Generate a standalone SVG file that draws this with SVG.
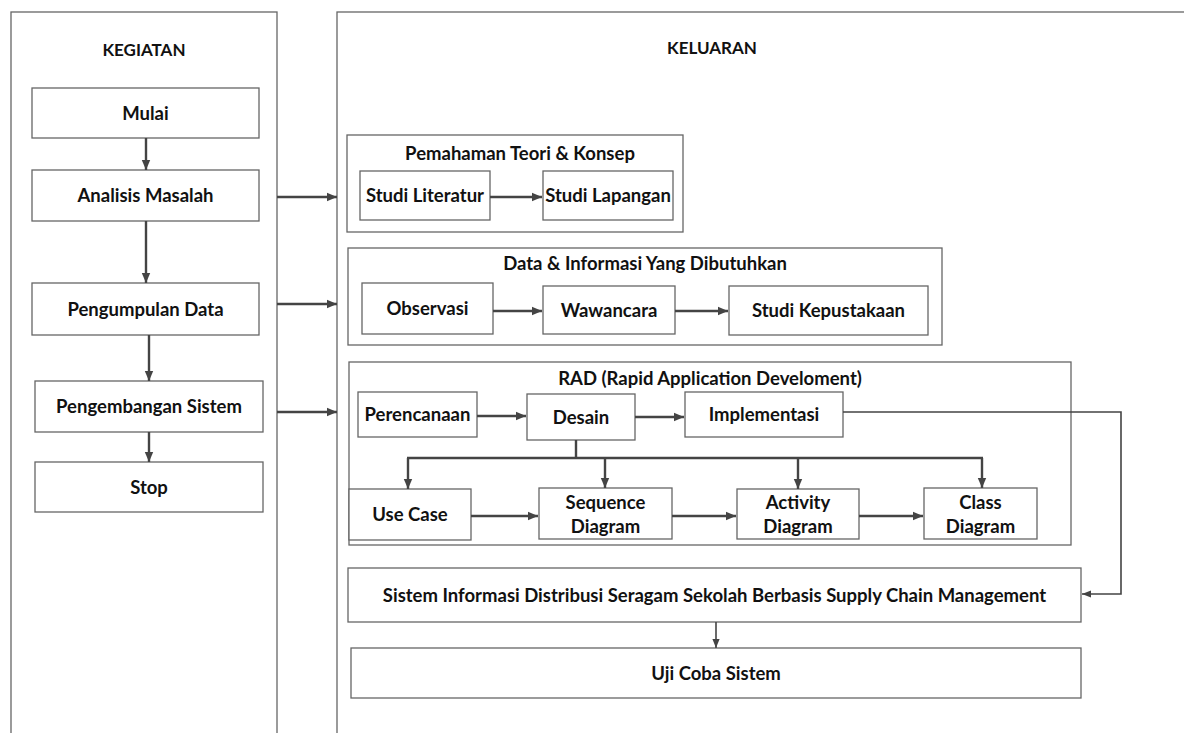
<svg xmlns="http://www.w3.org/2000/svg" width="1184" height="733" viewBox="0 0 1184 733">
<defs>
<style>
.panel{fill:none;stroke:#666;stroke-width:1.3}
.box{fill:#fff;stroke:#666;stroke-width:1.3}
.grp{fill:#fff;stroke:#666;stroke-width:1.3}
.t{font-family:Lato,"Liberation Sans",sans-serif;font-weight:bold;font-size:18.5px;fill:#111;text-anchor:middle}
.h{font-size:17px}
.ar{fill:none;stroke:#444;stroke-width:2.4;marker-end:url(#ah)}
.ln{fill:none;stroke:#444;stroke-width:2.4}
.ar2{fill:none;stroke:#444;stroke-width:1.6;marker-end:url(#ah2)}
</style>
<marker id="ah" viewBox="0 0 10 10" refX="10" refY="5" markerWidth="10" markerHeight="10" markerUnits="userSpaceOnUse" orient="auto">
<path d="M0,0.8 L10,5 L0,9.2 z" fill="#444"/>
</marker>
<marker id="ah2" viewBox="0 0 10 10" refX="10" refY="5" markerWidth="9" markerHeight="9" markerUnits="userSpaceOnUse" orient="auto">
<path d="M0,1 L10,5 L0,9 z" fill="#444"/>
</marker>
</defs>
<rect width="1184" height="733" fill="#fff"/>
<g id="panel-kegiatan">
<rect class="panel" x="11" y="12" width="266" height="740"/>
<text class="t h" x="144" y="56">KEGIATAN</text>
</g>
<g id="panel-keluaran">
<rect class="panel" x="337" y="12" width="900" height="740"/>
<text class="t h" x="712" y="54">KELUARAN</text>
</g>
<g id="mulai"><rect class="box" x="32" y="88" width="227" height="50"/><text class="t" x="145.5" y="119.5">Mulai</text></g>
<g id="analisis"><rect class="box" x="32" y="170" width="227" height="51"/><text class="t" x="145.5" y="202">Analisis Masalah</text></g>
<g id="pengumpulan"><rect class="box" x="32" y="283" width="227" height="52"/><text class="t" x="145.5" y="315.5">Pengumpulan Data</text></g>
<g id="pengembangan"><rect class="box" x="35" y="381" width="228" height="51"/><text class="t" x="149" y="413">Pengembangan Sistem</text></g>
<g id="stop"><rect class="box" x="35" y="462" width="228" height="50"/><text class="t" x="149" y="493.5">Stop</text></g>

<g id="grp-pemahaman"><rect class="grp" x="347" y="135" width="336" height="97"/><text class="t" x="520" y="159.5">Pemahaman Teori &amp; Konsep</text></g>
<g id="studi-literatur"><rect class="box" x="360" y="171" width="130" height="49"/><text class="t" x="425" y="202">Studi Literatur</text></g>
<g id="studi-lapangan"><rect class="box" x="543" y="171" width="130" height="49"/><text class="t" x="608" y="202">Studi Lapangan</text></g>

<g id="grp-data"><rect class="grp" x="348" y="248" width="594" height="97"/><text class="t" x="645" y="269.5">Data &amp; Informasi Yang Dibutuhkan</text></g>
<g id="observasi"><rect class="box" x="362" y="283" width="131" height="51"/><text class="t" x="427.5" y="315">Observasi</text></g>
<g id="wawancara"><rect class="box" x="543" y="286" width="132" height="48"/><text class="t" x="609" y="316.5">Wawancara</text></g>
<g id="studi-kepustakaan"><rect class="box" x="729" y="286" width="199" height="49"/><text class="t" x="828.5" y="317">Studi Kepustakaan</text></g>

<g id="grp-rad"><rect class="grp" x="349" y="362" width="722" height="183"/><text class="t" x="710" y="384.5">RAD (Rapid Application Develoment)</text></g>
<g id="perencanaan"><rect class="box" x="358" y="392" width="119" height="45"/><text class="t" x="417.5" y="421">Perencanaan</text></g>
<g id="desain"><rect class="box" x="527" y="394" width="108" height="46"/><text class="t" x="581" y="423.5">Desain</text></g>
<g id="implementasi"><rect class="box" x="685" y="392" width="158" height="45"/><text class="t" x="764" y="421">Implementasi</text></g>
<g id="use-case"><rect class="box" x="349" y="489" width="122" height="51"/><text class="t" x="410" y="521">Use Case</text></g>
<g id="sequence"><rect class="box" x="539" y="488" width="133" height="51"/><text class="t" x="605.5" y="508.5">Sequence</text><text class="t" x="605.5" y="533">Diagram</text></g>
<g id="activity"><rect class="box" x="737" y="489" width="122" height="50"/><text class="t" x="798" y="509">Activity</text><text class="t" x="798" y="533">Diagram</text></g>
<g id="class"><rect class="box" x="924" y="488" width="113" height="51"/><text class="t" x="980.5" y="508.5">Class</text><text class="t" x="980.5" y="533">Diagram</text></g>

<g id="sis"><rect class="box" x="348" y="568" width="733" height="54"/><text class="t" x="714.5" y="601.5">Sistem Informasi Distribusi Seragam Sekolah Berbasis Supply Chain Management</text></g>
<g id="uji"><rect class="box" x="351" y="648" width="730" height="50"/><text class="t" x="716" y="679.5">Uji Coba Sistem</text></g>

<g id="connectors">
<line class="ar" x1="146" y1="138" x2="146" y2="170"/>
<line class="ar" x1="146" y1="221" x2="146" y2="283"/>
<line class="ar" x1="149" y1="335" x2="149" y2="381"/>
<line class="ar" x1="149" y1="432" x2="149" y2="462"/>
<line class="ar" x1="277" y1="197" x2="337" y2="197"/>
<line class="ar" x1="277" y1="304" x2="337" y2="304"/>
<line class="ar" x1="277" y1="412" x2="337" y2="412"/>
<line class="ar" x1="490" y1="197" x2="542" y2="197"/>
<line class="ar" x1="493" y1="311" x2="542" y2="311"/>
<line class="ar" x1="675" y1="311" x2="728" y2="311"/>
<line class="ar" x1="477" y1="416" x2="526" y2="416"/>
<line class="ar" x1="635" y1="417" x2="684" y2="417"/>
<polyline class="ar2" points="843,412 1121,412 1121,594 1082,594"/>
<line class="ln" x1="576" y1="440" x2="576" y2="458"/>
<line class="ln" x1="407" y1="458" x2="983" y2="458"/>
<line class="ar" x1="408" y1="458" x2="408" y2="489"/>
<line class="ar" x1="605" y1="458" x2="605" y2="488"/>
<line class="ar" x1="798" y1="458" x2="798" y2="489"/>
<line class="ar" x1="982" y1="458" x2="982" y2="488"/>
<line class="ar" x1="471" y1="516" x2="538" y2="516"/>
<line class="ar" x1="672" y1="516" x2="736" y2="516"/>
<line class="ar" x1="859" y1="516" x2="923" y2="516"/>
<line class="ar2" x1="716" y1="622" x2="716" y2="648"/>
</g>
</svg>
